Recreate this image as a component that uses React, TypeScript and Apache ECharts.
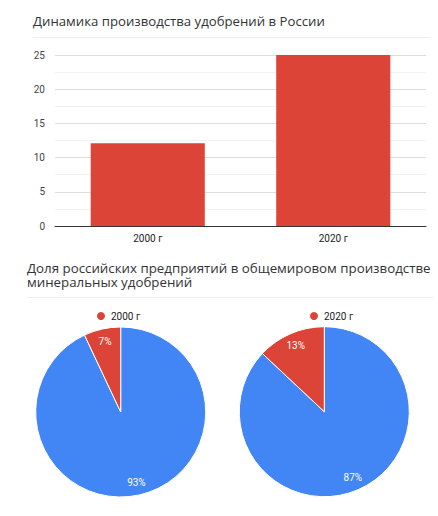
import React, { useEffect, useRef } from "react";
import * as echarts from "echarts";

const barCategories = ["2000 г", "2020 г"];
const barValues = [12.1, 25];
const yTicks = [0, 5, 10, 15, 20, 25];

const pieNames = ["2000 г", "2020 г"];
const restShares = [93, 87];
const russiaShares = [7, 13];

const RED = "#db4437";
const BLUE = "#4285f4";
const FONT = "Roboto, 'Open Sans', sans-serif";
const TITLE_FONT = "'Open Sans', sans-serif";

export default function App() {
  const ref = useRef<HTMLDivElement>(null);
  useEffect(() => {
    if (!ref.current) return;
    const chart = echarts.init(ref.current, undefined, { renderer: "svg" });
    const centers = [
      [120.7, 412],
      [324.3, 411.7],
    ];
    const pieSeries: any[] = [];
    pieNames.forEach((name, i) => {
      const data = [
        { name: "Остальные", value: restShares[i], itemStyle: { color: BLUE } },
        { name, value: russiaShares[i], itemStyle: { color: RED } },
      ];
      pieSeries.push({
        type: "pie",
        center: centers[i],
        radius: [0, 85],
        startAngle: 90,
        clockwise: true,
        data,
        label: { show: false },
        labelLine: { show: false },
        itemStyle: { borderColor: "#fff", borderWidth: 1 },
        emphasis: { disabled: true },
      });
      pieSeries.push({
        type: "pie",
        center: centers[i],
        radius: [52, 86],
        startAngle: 90,
        clockwise: true,
        silent: true,
        legendHoverLink: false,
        data: data.map((d) => ({ name: d.name + " ", value: d.value, itemStyle: { color: "transparent" } })),
        label: {
          show: true,
          position: "inside",
          formatter: (p: any) => p.value + "%",
          color: "#fff",
          fontSize: 10,
          fontFamily: FONT,
        },
        labelLine: { show: false },
        emphasis: { disabled: true },
      });
    });

    chart.setOption({
      animation: false,
      title: [
        {
          text: "Динамика производства удобрений в России",
          left: 28,
          top: 9,
          textStyle: { fontSize: 13.2, fontWeight: "normal", color: "#333", fontFamily: TITLE_FONT },
        },
        {
          text: "Доля российских предприятий в общемировом производстве\nминеральных удобрений",
          left: 22,
          top: 256,
          textStyle: { fontSize: 13.3, fontWeight: "normal", color: "#333", fontFamily: TITLE_FONT, lineHeight: 14 },
        },
      ],
      legend: [
        {
          data: [pieNames[0]],
          left: 90,
          top: 305,
          icon: "circle",
          itemWidth: 10,
          itemHeight: 10,
          selectedMode: false,
          textStyle: { fontSize: 10, color: "#222", fontFamily: FONT },
        },
        {
          data: [pieNames[1]],
          left: 303,
          top: 305,
          icon: "circle",
          itemWidth: 10,
          itemHeight: 10,
          selectedMode: false,
          textStyle: { fontSize: 10, color: "#222", fontFamily: FONT },
        },
      ],
      graphic: [
        { type: "line", shape: { x1: 33, y1: 37.5, x2: 430, y2: 37.5 }, style: { stroke: "#eeeeee", lineWidth: 1 } },
        { type: "line", shape: { x1: 27, y1: 297.5, x2: 433, y2: 297.5 }, style: { stroke: "#eeeeee", lineWidth: 1 } },
      ],
      grid: { left: 55, right: 12, top: 55, bottom: 290, containLabel: false },
      xAxis: {
        type: "category",
        data: barCategories,
        axisLine: { lineStyle: { color: "#333" } },
        axisTick: { show: false },
        axisLabel: { fontSize: 10, color: "#222", fontFamily: FONT, margin: 7 },
      },
      yAxis: {
        type: "value",
        min: yTicks[0],
        max: yTicks[yTicks.length - 1],
        interval: 5,
        axisLine: { show: false },
        axisTick: { show: false },
        axisLabel: { fontSize: 10, color: "#444", fontFamily: FONT, margin: 10 },
        splitLine: { lineStyle: { color: "#dddddd" } },
        minorTick: { show: false, splitNumber: 2 },
        minorSplitLine: { show: true, lineStyle: { color: "#f2f2f2" } },
      },
      series: [
        {
          type: "bar",
          data: barValues,
          barCategoryGap: "38.5%",
          itemStyle: { color: RED },
          emphasis: { disabled: true },
        },
        ...pieSeries,
      ],
    });
    return () => chart.dispose();
  }, []);
  return (
    <div
      ref={ref}
      style={{ position: "fixed", left: 0, top: 0, width: 438, height: 516, background: "#fff" }}
    />
  );
}
